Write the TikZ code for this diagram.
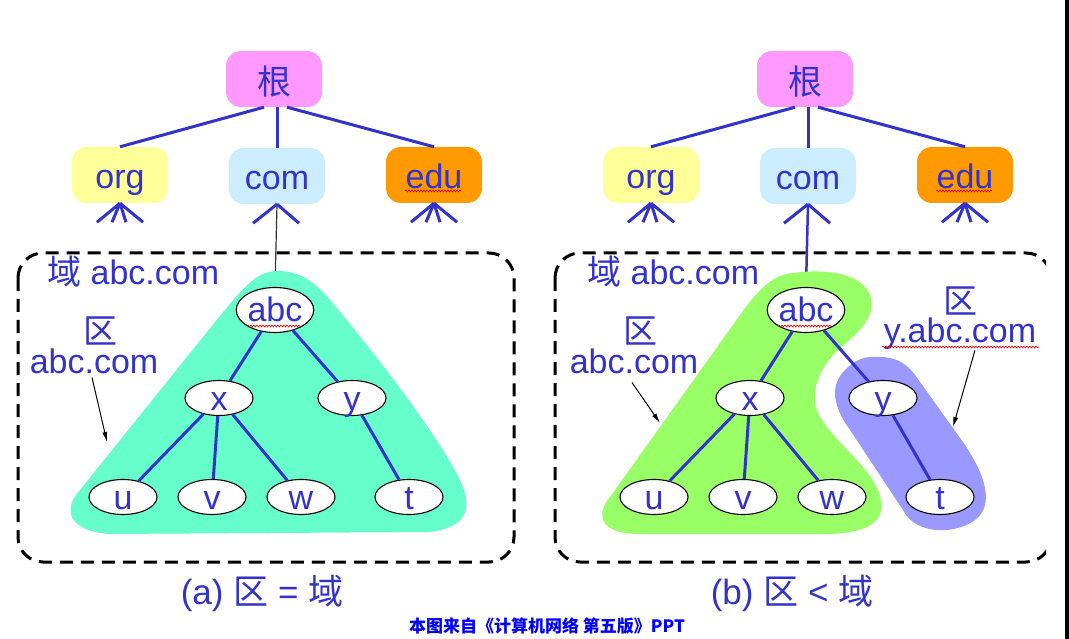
\documentclass[tikz,border=0pt]{standalone}
\usepackage{fontspec}
\setmainfont{Liberation Sans}
\newfontfamily\cjk{Noto Sans CJK SC}
\usetikzlibrary{arrows.meta,decorations.pathmorphing,backgrounds,shapes.geometric}
\definecolor{txtblue}{HTML}{3333CC}
\definecolor{rootc}{HTML}{FF99FF}
\definecolor{orgc}{HTML}{FFFF99}
\definecolor{comc}{HTML}{CCECFF}
\definecolor{educ}{HTML}{FF9900}
\definecolor{tealc}{HTML}{66FFCC}
\definecolor{greenc}{HTML}{99FF66}
\definecolor{violc}{HTML}{9999FF}
\definecolor{footc}{HTML}{0000FF}
\tikzset{
  every node/.style={font=\fontsize{34}{40}\selectfont, text=txtblue},
  dnsbox/.style={rounded corners=15pt, minimum width=96pt, minimum height=56pt, inner sep=0pt, text height=28pt, text depth=0pt},
  ell/.style={ellipse, draw=black, line width=1.1pt, fill=white, minimum width=68pt, minimum height=35pt, inner sep=0pt, text height=24pt, text depth=0pt},
  tedge/.style={draw=txtblue, line width=3pt},
  dbox/.style={draw=black, line width=3pt, dash pattern=on 13pt off 8pt, rounded corners=25pt},
  lbl/.style={inner sep=0pt},
  arr/.style={-{Latex[length=10pt,width=5pt]}, line width=1pt, draw=black},
  squig/.style={draw=red, line width=0.6pt, decorate, decoration={snake, amplitude=1pt, segment length=3pt}},
}
\newcommand\dnstree[1]{%
  \node[dnsbox,fill=rootc,text height=31pt] (#1root) at (274,79) {\cjk 根};
  \node[dnsbox,fill=orgc] (#1org) at (120,175) {org};
  \node[dnsbox,fill=comc] (#1com) at (277,176) {com};
  \node[dnsbox,fill=educ] (#1edu) at (434,175) {edu};
  \node[ell,minimum width=76pt,minimum height=45pt] (#1abc) at (275,310) {abc};
  \node[ell] (#1x) at (219,398) {x};
  \node[ell] (#1y) at (352,398) {y};
  \node[ell] (#1u) at (123,497) {u};
  \node[ell] (#1v) at (212,497) {v};
  \node[ell] (#1w) at (301,497) {w};
  \node[ell] (#1t) at (409,497) {t};
  \draw[tedge] ([xshift=-10pt]#1root.south) -- (#1org.north);
  \draw[tedge] ([xshift=3pt]#1root.south) -- (#1com.north);
  \draw[tedge] ([xshift=13pt]#1root.south) -- (#1edu.north);
  \foreach \dx [count=\i] in {-23,-8,6,23}{
    \coordinate (#1of\i) at ([shift={(\dx,19)}]#1org.south);
    \draw[tedge] (#1org.south) -- (#1of\i);
    \coordinate (#1ef\i) at ([shift={(\dx,19)}]#1edu.south);
    \draw[tedge] (#1edu.south) -- (#1ef\i);
  }
  \foreach \dx [count=\i] in {-24,22}{
    \coordinate (#1cf\i) at ([shift={(\dx,19)}]#1com.south);
    \draw[tedge] (#1com.south) -- (#1cf\i);
  }
  \draw[tedge] (#1abc) -- (#1x);
  \draw[tedge] (#1abc) -- (#1y);
  \draw[tedge] (#1x) -- (#1u);
  \draw[tedge] (#1x) -- (#1v);
  \draw[tedge] (#1x) -- (#1w);
  \draw[tedge] (#1y) -- (#1t);
}
\begin{document}
\begin{tikzpicture}[x=1pt,y=-1pt]
\useasboundingbox (0,0) rectangle (1069,639);
\fill[black] (1065,0) rectangle (1069,639);

% trees
\dnstree{L}
\begin{scope}[xshift=531pt]
\dnstree{R}
\end{scope}

% zone fills and com-abc links, behind everything
\begin{scope}[on background layer]
  \fill[white] (0,0) rectangle (1065,639);
  \draw[draw=black!80, line width=1.2pt] (Lcom.south) -- (Labc.north);
  \draw[tedge, line width=2.5pt] (Rcom.south) -- (Rabc.north);
  % teal zone (a)
  \fill[tealc] (277,271) .. controls (300,271) and (315,282) .. (330,300)
     .. controls (385,365) and (440,440) .. (460,480)
     .. controls (472,505) and (470,527) .. (430,532)
     -- (110,534) .. controls (75,532) and (62,515) .. (76,495)
     -- (215,322) .. controls (240,292) and (255,271) .. (277,271) -- cycle;
  % green zone (b)
  \fill[greenc] (793,273) .. controls (830,268) and (862,275) .. (870,295)
     .. controls (878,318) and (855,335) .. (838,350)
     .. controls (815,372) and (808,400) .. (822,420)
     .. controls (840,448) and (875,470) .. (881,500)
     .. controls (886,525) and (860,533) .. (830,534)
     -- (640,534) .. controls (600,534) and (595,515) .. (610,497)
     -- (745,308) .. controls (765,282) and (778,274) .. (793,273) -- cycle;
  % violet zone (b)
  \fill[violc] (873,357) .. controls (895,356) and (905,362) .. (915,375)
     -- (965,445) .. controls (985,475) and (995,505) .. (975,520)
     .. controls (955,535) and (915,535) .. (903,510)
     -- (850,430) .. controls (832,405) and (830,385) .. (845,370)
     .. controls (855,360) and (863,357) .. (873,357) -- cycle;
\end{scope}

% dashed domain boxes
\draw[dbox] (18,253) rectangle (514,562);
\begin{scope}
  \clip (540,240) rectangle (1046,580);
  \draw[dbox] (555,253) rectangle (1051,562);
\end{scope}

% labels (a)
\node[lbl,anchor=base west] (Ldom) at (47,285) {{\cjk 域} abc.com};
\node[lbl,anchor=base] (Lzq) at (100,344) {\cjk 区};
\node[lbl,anchor=base] (Lzn) at (94,373) {abc.com};
\coordinate (Lat) at (107,442);
\draw[arr] ([shift={(-2,4)}]Lzn.south) -- (Lat);

% labels (b)
\node[lbl,anchor=base west] (Rdom) at (587,285) {{\cjk 域} abc.com};
\node[lbl,anchor=base] (Rzq) at (640,344) {\cjk 区};
\node[lbl,anchor=base] (Rzn) at (634,373) {abc.com};
\coordinate (Rat) at (660,423);
\draw[arr] ([shift={(-2,9)}]Rzn.south) -- (Rat);
\node[lbl,anchor=base] (Ryq) at (960,313) {\cjk 区};
\node[lbl,anchor=base] (Ryn) at (960,342) {y.abc.com};
\coordinate (Ryt) at (953,427);
\draw[arr] ([shift={(15,1)}]Ryn.south) -- (Ryt);

% spell-check squiggles
\draw[squig] (247,326) -- (300,326);
\draw[squig] (778,326) -- (831,326);
\draw[squig] (405,191) -- (461,191);
\draw[squig] (936,191) -- (992,191);
\draw[squig] (882,347) -- (1039,347);

% captions
\node[lbl,font=\fontsize{35}{40}\selectfont] (capa) at (262,593) {(a) {\cjk 区} = {\cjk 域}};
\node[lbl,font=\fontsize{35}{40}\selectfont] (capb) at (792,593) {(b) {\cjk 区} < {\cjk 域}};
\node[lbl,font=\fontsize{17}{20}\selectfont\cjk\bfseries,text=footc] (foot) at (547,626) {本图来自《计算机网络 第五版》PPT};
\end{tikzpicture}
\end{document}
